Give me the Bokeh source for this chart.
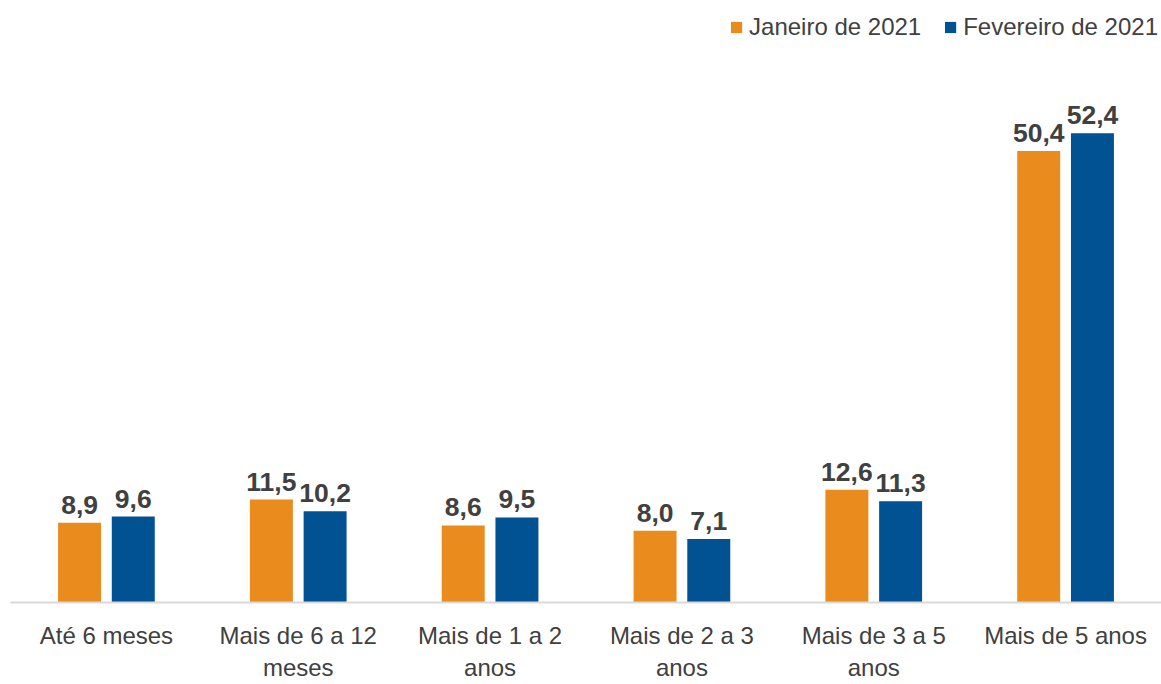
from bokeh.plotting import figure
from bokeh.models import ColumnDataSource, FactorRange, Range1d, Legend, LegendItem
from bokeh.transform import dodge
from bokeh.core.properties import value
from bokeh.embed import file_html
from bokeh.resources import INLINE

categories = ["Até 6 meses", "Mais de 6 a 12\nmeses", "Mais de 1 a 2\nanos",
              "Mais de 2 a 3\nanos", "Mais de 3 a 5\nanos", "Mais de 5 anos"]
jan_2021 = [8.9, 11.5, 8.6, 8.0, 12.6, 50.4]
fev_2021 = [9.6, 10.2, 9.5, 7.1, 11.3, 52.4]
series_names = ["Janeiro de 2021", "Fevereiro de 2021"]

ORANGE = "#EA8B1E"
BLUE = "#005292"
TEXT = "#404040"
FONT = "Liberation Sans"

src = ColumnDataSource(dict(
    cat=categories,
    jan=jan_2021,
    fev=fev_2021,
    jan_lbl=[f"{v:.1f}".replace(".", ",") for v in jan_2021],
    fev_lbl=[f"{v:.1f}".replace(".", ",") for v in fev_2021],
))

p = figure(width=1161, height=684, x_range=FactorRange(*categories),
           y_range=Range1d(0, 66.1), output_backend="svg", toolbar_location=None,
           min_border_left=10, min_border_right=0, min_border_top=10, min_border_bottom=80)

r1 = p.vbar(x=dodge("cat", -0.14, range=p.x_range), top="jan", width=0.224, source=src,
            fill_color=ORANGE, line_color=None)
r2 = p.vbar(x=dodge("cat", 0.14, range=p.x_range), top="fev", width=0.224, source=src,
            fill_color=BLUE, line_color=None)

for col, off in (("jan", -0.14), ("fev", 0.14)):
    p.text(x=dodge("cat", off, range=p.x_range), y=col, text=col + "_lbl", source=src,
           text_align="center", text_baseline="alphabetic", y_offset=-18,
           text_font=value(FONT), text_font_size="26.5px", text_font_style="bold",
           text_color=TEXT)

legend = Legend(items=[LegendItem(label=series_names[0], renderers=[r1]),
                       LegendItem(label=series_names[1], renderers=[r2])],
                location="top_right", orientation="horizontal",
                label_text_font=FONT, label_text_font_size="24px", label_text_color=TEXT,
                glyph_width=14, glyph_height=14, label_standoff=6, spacing=22,
                padding=0, margin=3, border_line_color=None, background_fill_alpha=0)
p.add_layout(legend)

p.xgrid.grid_line_color = None
p.ygrid.grid_line_color = None
p.yaxis.visible = False
p.outline_line_color = None
p.xaxis.axis_line_color = "#D9D9D9"
p.xaxis.axis_line_width = 2
p.xaxis.major_tick_line_color = None
p.xaxis.minor_tick_line_color = None
p.xaxis.major_label_standoff = 13
p.xaxis.major_label_text_font = FONT
p.xaxis.major_label_text_font_size = "24px"
p.xaxis.major_label_text_color = TEXT
p.xaxis.major_label_text_line_height = 1.22

open("out.html", "w").write(file_html(p, INLINE))
